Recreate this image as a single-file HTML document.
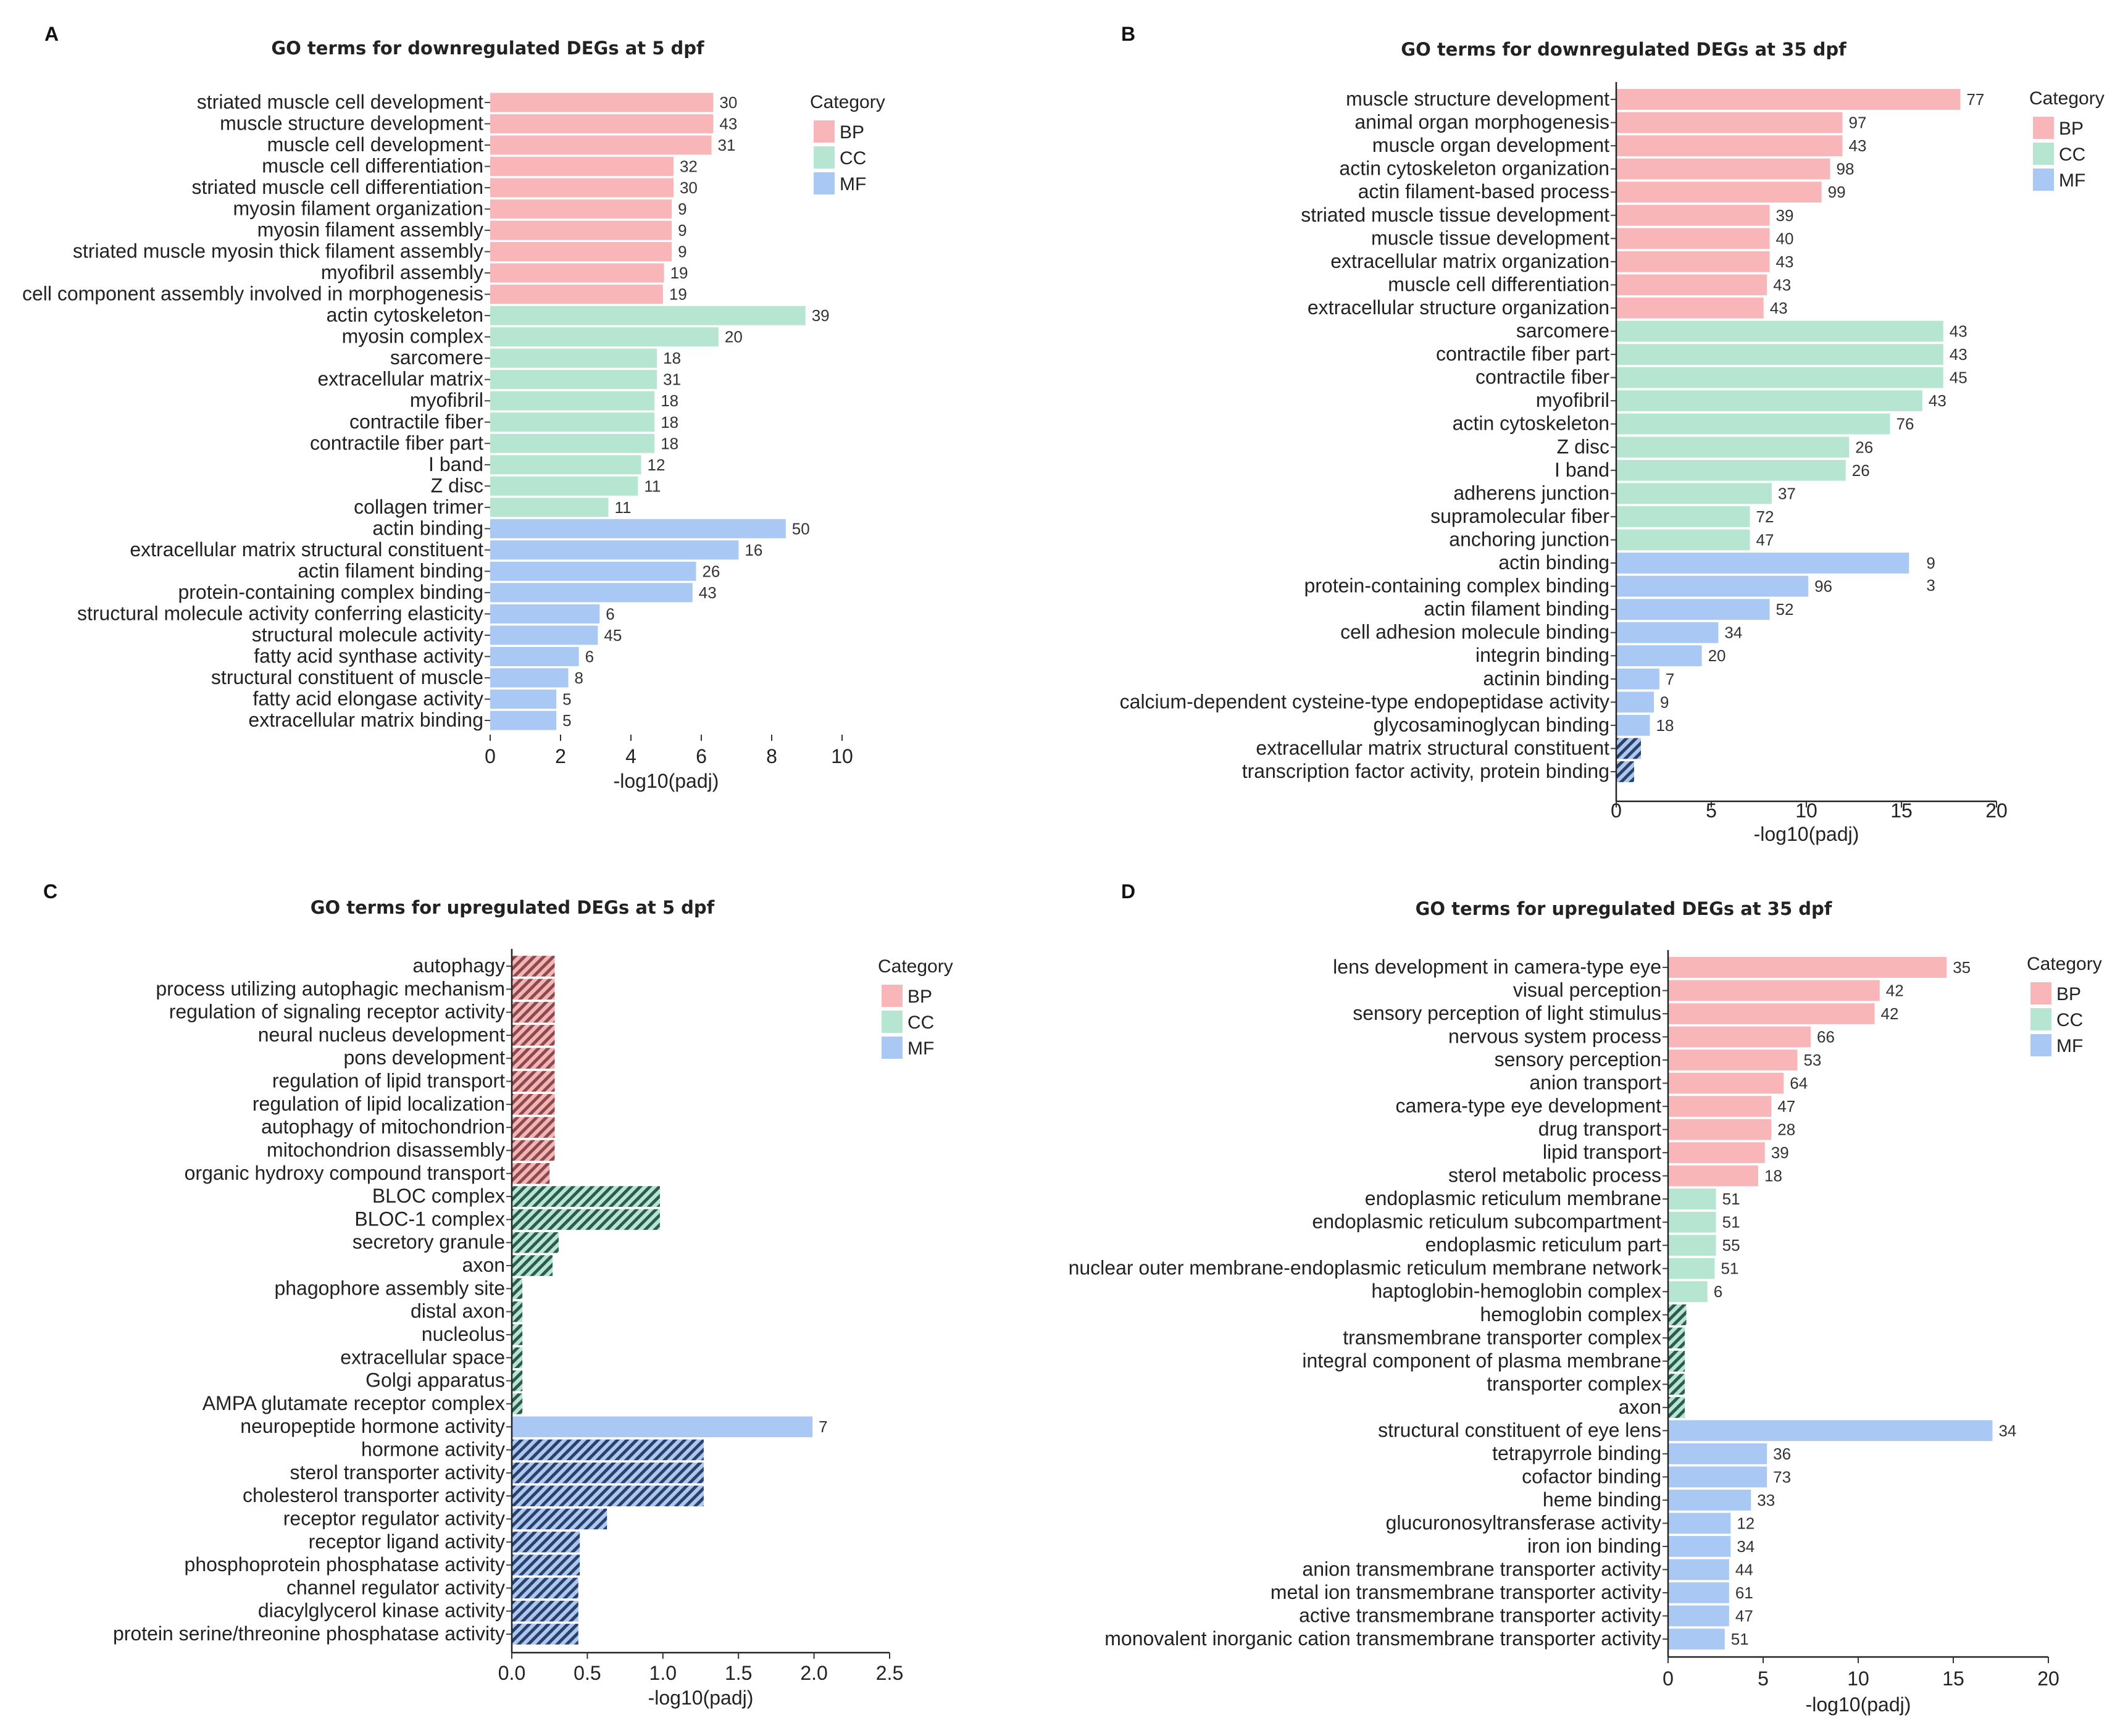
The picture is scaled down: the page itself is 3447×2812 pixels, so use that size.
<!DOCTYPE html>
<html><head><meta charset="utf-8">
<style>
html,body{margin:0;padding:0;background:#fff;}
svg{display:block;font-family:"Liberation Sans",sans-serif;}
</style></head>
<body>
<svg id="fig" width="3447" height="2812" viewBox="0 0 3447 2812" xmlns="http://www.w3.org/2000/svg">
<defs>
<pattern id="hBP" patternUnits="userSpaceOnUse" width="11" height="11" patternTransform="rotate(45)"><rect width="11" height="11" fill="#f4b4b4"/><rect width="5" height="11" fill="#8a4a50"/></pattern>
<pattern id="hCC" patternUnits="userSpaceOnUse" width="11" height="11" patternTransform="rotate(45)"><rect width="11" height="11" fill="#b6e6d2"/><rect width="5" height="11" fill="#2f5a50"/></pattern>
<pattern id="hMF" patternUnits="userSpaceOnUse" width="11" height="11" patternTransform="rotate(45)"><rect width="11" height="11" fill="#a9c8f4"/><rect width="5" height="11" fill="#2e4066"/></pattern>
</defs>
</svg>
<script>
// Panel A data
const aTerms = ["striated muscle cell development","muscle structure development","muscle cell development","muscle cell differentiation","striated muscle cell differentiation","myosin filament organization","myosin filament assembly","striated muscle myosin thick filament assembly","myofibril assembly","cell component assembly involved in morphogenesis","actin cytoskeleton","myosin complex","sarcomere","extracellular matrix","myofibril","contractile fiber","contractile fiber part","I band","Z disc","collagen trimer","actin binding","extracellular matrix structural constituent","actin filament binding","protein-containing complex binding","structural molecule activity conferring elasticity","structural molecule activity","fatty acid synthase activity","structural constituent of muscle","fatty acid elongase activity","extracellular matrix binding"];
const aValues = [6.34,6.34,6.29,5.21,5.21,5.16,5.16,5.16,4.94,4.91,8.96,6.49,4.74,4.74,4.67,4.67,4.67,4.29,4.2,3.36,8.4,7.06,5.85,5.75,3.11,3.06,2.52,2.22,1.88,1.88];
const aCounts = ["30","43","31","32","30","9","9","9","19","19","39","20","18","31","18","18","18","12","11","11","50","16","26","43","6","45","6","8","5","5"];
const aCats = ["BP","BP","BP","BP","BP","BP","BP","BP","BP","BP","CC","CC","CC","CC","CC","CC","CC","CC","CC","CC","MF","MF","MF","MF","MF","MF","MF","MF","MF","MF"];
const aHatch = [];
const aTicks = [0,2,4,6,8,10];

// Panel B data
const bTerms = ["muscle structure development","animal organ morphogenesis","muscle organ development","actin cytoskeleton organization","actin filament-based process","striated muscle tissue development","muscle tissue development","extracellular matrix organization","muscle cell differentiation","extracellular structure organization","sarcomere","contractile fiber part","contractile fiber","myofibril","actin cytoskeleton","Z disc","I band","adherens junction","supramolecular fiber","anchoring junction","actin binding","protein-containing complex binding","actin filament binding","cell adhesion molecule binding","integrin binding","actinin binding","calcium-dependent cysteine-type endopeptidase activity","glycosaminoglycan binding","extracellular matrix structural constituent","transcription factor activity, protein binding"];
const bValues = [18.1,11.9,11.9,11.25,10.8,8.07,8.07,8.07,7.93,7.75,17.2,17.2,17.2,16.1,14.4,12.25,12.07,8.18,7.03,7.03,15.4,10.1,8.07,5.37,4.5,2.27,1.98,1.77,1.3,0.94];
const bCounts = ["77","97","43","98","99","39","40","43","43","43","43","43","45","43","76","26","26","37","72","47","9|3","96","52","34","20","7","9","18","",""];
const bCats = ["BP","BP","BP","BP","BP","BP","BP","BP","BP","BP","CC","CC","CC","CC","CC","CC","CC","CC","CC","CC","MF","MF","MF","MF","MF","MF","MF","MF","MF","MF"];
const bHatch = [28,29];
const bTicks = [0,5,10,15,20];

// Panel C data
const cTerms = ["autophagy","process utilizing autophagic mechanism","regulation of signaling receptor activity","neural nucleus development","pons development","regulation of lipid transport","regulation of lipid localization","autophagy of mitochondrion","mitochondrion disassembly","organic hydroxy compound transport","BLOC complex","BLOC-1 complex","secretory granule","axon","phagophore assembly site","distal axon","nucleolus","extracellular space","Golgi apparatus","AMPA glutamate receptor complex","neuropeptide hormone activity","hormone activity","sterol transporter activity","cholesterol transporter activity","receptor regulator activity","receptor ligand activity","phosphoprotein phosphatase activity","channel regulator activity","diacylglycerol kinase activity","protein serine/threonine phosphatase activity"];
const cValues = [0.284,0.284,0.284,0.284,0.284,0.284,0.284,0.284,0.284,0.25,0.98,0.98,0.31,0.27,0.07,0.07,0.07,0.07,0.07,0.07,1.99,1.27,1.27,1.27,0.63,0.45,0.45,0.44,0.44,0.44];
const cCounts = ["","","","","","","","","","","","","","","","","","","","","7","","","","","","","","",""];
const cCats = ["BP","BP","BP","BP","BP","BP","BP","BP","BP","BP","CC","CC","CC","CC","CC","CC","CC","CC","CC","CC","MF","MF","MF","MF","MF","MF","MF","MF","MF","MF"];
const cHatch = [0,1,2,3,4,5,6,7,8,9,10,11,12,13,14,15,16,17,18,19,21,22,23,24,25,26,27,28,29];
const cTicks = [0,0.5,1.0,1.5,2.0,2.5];

// Panel D data
const dTerms = ["lens development in camera-type eye","visual perception","sensory perception of light stimulus","nervous system process","sensory perception","anion transport","camera-type eye development","drug transport","lipid transport","sterol metabolic process","endoplasmic reticulum membrane","endoplasmic reticulum subcompartment","endoplasmic reticulum part","nuclear outer membrane-endoplasmic reticulum membrane network","haptoglobin-hemoglobin complex","hemoglobin complex","transmembrane transporter complex","integral component of plasma membrane","transporter complex","axon","structural constituent of eye lens","tetrapyrrole binding","cofactor binding","heme binding","glucuronosyltransferase activity","iron ion binding","anion transmembrane transporter activity","metal ion transmembrane transporter activity","active transmembrane transporter activity","monovalent inorganic cation transmembrane transporter activity"];
const dValues = [14.65,11.13,10.86,7.5,6.8,6.08,5.43,5.43,5.09,4.74,2.52,2.52,2.52,2.45,2.07,0.96,0.88,0.88,0.88,0.88,17.06,5.2,5.2,4.36,3.29,3.29,3.21,3.21,3.21,2.98];
const dCounts = ["35","42","42","66","53","64","47","28","39","18","51","51","55","51","6","","","","","","34","36","73","33","12","34","44","61","47","51"];
const dCats = ["BP","BP","BP","BP","BP","BP","BP","BP","BP","BP","CC","CC","CC","CC","CC","CC","CC","CC","CC","CC","MF","MF","MF","MF","MF","MF","MF","MF","MF","MF"];
const dHatch = [15,16,17,18,19];
const dTicks = [0,5,10,15,20];

const NS = "http://www.w3.org/2000/svg";
const svg = document.getElementById('fig');
const FILL = {BP:"#f8b6b8", CC:"#b6e6d2", MF:"#a9c8f4"};

function mk(tag, attrs, parent){
  const e = document.createElementNS(NS, tag);
  for (const k in attrs) e.setAttribute(k, attrs[k]);
  (parent||svg).appendChild(e);
  return e;
}

function panel(cfg){
  const g = mk('g', {});
  
  
  const xs = v => cfg.x0 + (v - cfg.ticks[0]) / (cfg.ticks[cfg.ticks.length-1] - cfg.ticks[0]) * (cfg.x1 - cfg.x0);
  const n = cfg.terms.length;
  const step = (cfg.yLast - cfg.yFirst) / (n - 1);
  const bh = step * 0.9;

  const letter = mk('text', {x:cfg.letterX, y:cfg.letterY, 'font-size':32, 'font-weight':'bold', fill:'#111'}, g);
  letter.textContent = cfg.letter;
  
  
  const title = mk('text', {x:cfg.titleX, y:cfg.titleY, 'font-size':29, 'font-weight':'bold', 'text-anchor':'middle', fill:'#222', 'font-family':'"DejaVu Sans", sans-serif'}, g);
  title.textContent = cfg.title;
  
  

  for (let i = 0; i < n; i++){
    const cy = cfg.yFirst + i * step;
    const cat = cfg.cats[i];
    const hatched = cfg.hatch.indexOf(i) >= 0;
    const r = mk('rect', {x:xs(0), y:cy - bh/2, width:Math.max(0, xs(cfg.values[i]) - xs(0)), height:bh, fill: hatched ? 'url(#h'+cat+')' : FILL[cat]}, g);
    
    
    mk('line', {x1:xs(0)-9, x2:xs(0), y1:cy, y2:cy, stroke:'#444', 'stroke-width':2}, g);
    const t = mk('text', {x:xs(0)-11, y:cy+10, 'font-size':32, 'text-anchor':'end', fill:'#222'}, g);
    t.textContent = cfg.terms[i];
    
    
    const c = cfg.counts[i];
    if (c){
      const parts = c.split('|');
      parts.forEach((p, j) => {
        const ct = mk('text', {x:xs(cfg.values[i]) + (parts.length>1 ? 28 : 10), y:cy + 9 + j*36, 'font-size':26, fill:'#333'}, g);
        ct.textContent = p;
        
        
      });
    }
  }
  if (cfg.axisLines){
    mk('line', {x1:xs(0), x2:xs(0), y1:cfg.yFirst - step*0.75, y2:cfg.axisY, stroke:'#222', 'stroke-width':2.5}, g);
    mk('line', {x1:xs(0), x2:cfg.x1, y1:cfg.axisY, y2:cfg.axisY, stroke:'#222', 'stroke-width':2.5}, g);
  }
  cfg.ticks.forEach(tv => {
    mk('line', {x1:xs(tv), x2:xs(tv), y1:cfg.axisY, y2:cfg.axisY+10, stroke:'#333', 'stroke-width':2}, g);
    const tl = mk('text', {x:xs(tv), y:cfg.tickY, 'font-size':32, 'text-anchor':'middle', fill:'#222'}, g);
    tl.textContent = (cfg.decimals ? tv.toFixed(1) : String(tv));
    
    
  });
  const xt = mk('text', {x:(cfg.x0 + xs(cfg.ticks[cfg.ticks.length-1]))/2 + cfg.xtOff, y:cfg.xtY, 'font-size':32, 'text-anchor':'middle', fill:'#222'}, g);
  xt.textContent = '-log10(padj)';
  
  

  const lg = mk('g', {}, g);
  
  
  const lt = mk('text', {x:cfg.legX - 6, y:cfg.legY, 'font-size':30, fill:'#222'}, lg);
  lt.textContent = 'Category';
  ['BP','CC','MF'].forEach((k, j) => {
    const sy = cfg.legY + 20 + j*42;
    const sw = mk('rect', {x:cfg.legX, y:sy, width:34, height:36, fill:FILL[k]}, lg);
    
    
    const st = mk('text', {x:cfg.legX + 42, y:sy + 29, 'font-size':30, fill:'#222'}, lg);
    st.textContent = k;
    
    
  });
}

panel({name:'panel-a', letter:'A', letterX:72, letterY:66, title:'GO terms for downregulated DEGs at 5 dpf', titleX:790, titleY:88,
  terms:aTerms, values:aValues, counts:aCounts, cats:aCats, hatch:aHatch, ticks:aTicks,
  x0:794, x1:1364, yFirst:166, yLast:1167, axisLines:false, axisY:1190, tickY:1236, xtY:1276, xtOff:0, decimals:false,
  legX:1318, legY:175});
panel({name:'panel-b', letter:'B', letterX:1816, letterY:66, title:'GO terms for downregulated DEGs at 35 dpf', titleX:2630, titleY:90,
  terms:bTerms, values:bValues, counts:bCounts, cats:bCats, hatch:bHatch, ticks:bTicks,
  x0:2618, x1:3234, yFirst:161, yLast:1250, axisLines:true, axisY:1298, tickY:1324, xtY:1362, xtOff:0, decimals:false,
  legX:3293, legY:169});
panel({name:'panel-c', letter:'C', letterX:70, letterY:1455, title:'GO terms for upregulated DEGs at 5 dpf', titleX:830, titleY:1480,
  terms:cTerms, values:cValues, counts:cCounts, cats:cCats, hatch:cHatch, ticks:cTicks,
  x0:829, x1:1441, yFirst:1565, yLast:2647, axisLines:true, axisY:2677, tickY:2721, xtY:2761, xtOff:0, decimals:true,
  legX:1428, legY:1575});
panel({name:'panel-d', letter:'D', letterX:1816, letterY:1455, title:'GO terms for upregulated DEGs at 35 dpf', titleX:2630, titleY:1482,
  terms:dTerms, values:dValues, counts:dCounts, cats:dCats, hatch:dHatch, ticks:dTicks,
  x0:2702, x1:3318, yFirst:1567, yLast:2655, axisLines:true, axisY:2684, tickY:2730, xtY:2772, xtOff:0, decimals:false,
  legX:3289, legY:1571});
</script>
</body></html>
